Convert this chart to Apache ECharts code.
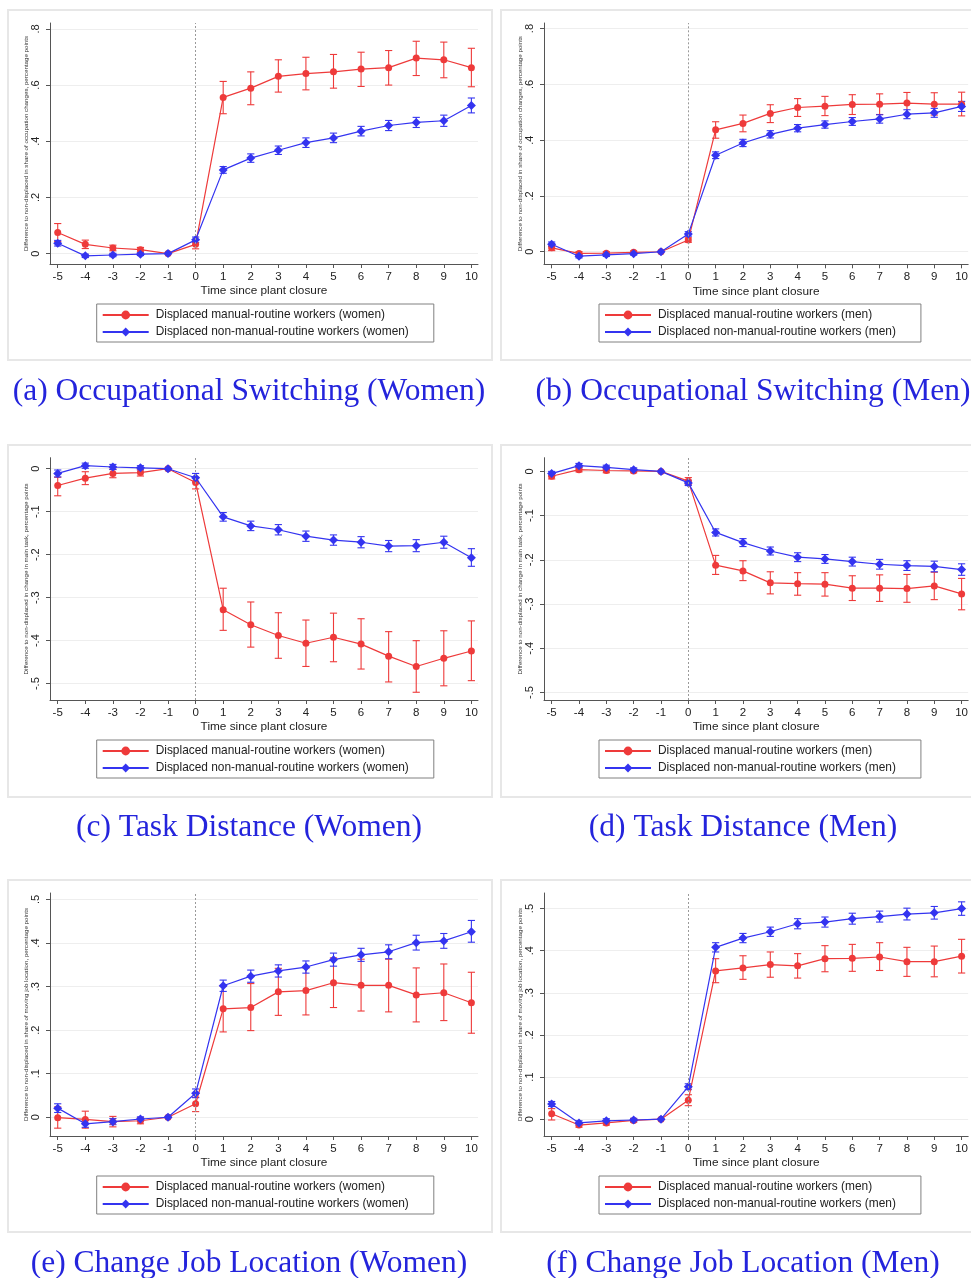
<!DOCTYPE html>
<html>
<head>
<meta charset="utf-8">
<script src="https://cdn.jsdelivr.net/npm/echarts@6/dist/echarts.min.js"></script>
<style>
  html, body { margin: 0; padding: 0; background: #ffffff; overflow: hidden; }
  #chart { width: 971px; height: 1278px; }
</style>
</head>
<body>
<div id="chart"></div>
<script>
// Event time relative to plant closure
const years = [-5, -4, -3, -2, -1, 0, 1, 2, 3, 4, 5, 6, 7, 8, 9, 10];
const xTicks = years;
const yTicksOcc = [0, 0.2, 0.4, 0.6, 0.8];
const yTicksTask = [-0.5, -0.4, -0.3, -0.2, -0.1, 0];
const yTicksLoc = [0, 0.1, 0.2, 0.3, 0.4, 0.5];

// Series names
const manualWomen = 'Displaced manual-routine workers (women)';
const nonManualWomen = 'Displaced non-manual-routine workers (women)';
const manualMen = 'Displaced manual-routine workers (men)';
const nonManualMen = 'Displaced non-manual-routine workers (men)';

// (a) Occupational switching, women
const occWomenManual   = [0.075, 0.033, 0.020, 0.014, 0, 0.033, 0.556, 0.589, 0.631, 0.641, 0.647, 0.657, 0.662, 0.696, 0.690, 0.662];
const occWomenManualLo = [0.043, 0.018, 0.010, 0.006, 0, 0.017, 0.498, 0.530, 0.575, 0.583, 0.589, 0.595, 0.600, 0.634, 0.626, 0.594];
const occWomenManualHi = [0.107, 0.048, 0.030, 0.022, 0, 0.049, 0.613, 0.647, 0.690, 0.699, 0.709, 0.717, 0.723, 0.756, 0.753, 0.731];
const occWomenOther    = [0.037, -0.008, -0.005, -0.002, 0, 0.049, 0.298, 0.340, 0.368, 0.395, 0.412, 0.436, 0.456, 0.467, 0.473, 0.527];
const occWomenOtherLo  = [0.027, -0.014, -0.011, -0.007, 0, 0.039, 0.286, 0.325, 0.353, 0.378, 0.395, 0.419, 0.438, 0.449, 0.453, 0.501];
const occWomenOtherHi  = [0.047, -0.002, 0.001, 0.003, 0, 0.059, 0.310, 0.355, 0.383, 0.412, 0.429, 0.453, 0.474, 0.485, 0.493, 0.554];

// (b) Occupational switching, men
const occMenManual   = [0.014, -0.006, -0.005, -0.002, 0, 0.042, 0.437, 0.460, 0.496, 0.517, 0.522, 0.528, 0.529, 0.533, 0.529, 0.529];
const occMenManualLo = [0.004, -0.012, -0.010, -0.007, 0, 0.034, 0.407, 0.430, 0.463, 0.485, 0.488, 0.492, 0.492, 0.494, 0.490, 0.487];
const occMenManualHi = [0.024, 0.000, 0.000, 0.003, 0, 0.050, 0.466, 0.490, 0.527, 0.549, 0.557, 0.563, 0.566, 0.571, 0.570, 0.572];
const occMenOther    = [0.027, -0.016, -0.011, -0.007, 0, 0.064, 0.346, 0.390, 0.421, 0.443, 0.456, 0.467, 0.476, 0.493, 0.498, 0.521];
const occMenOtherLo  = [0.019, -0.022, -0.017, -0.012, 0, 0.056, 0.334, 0.377, 0.408, 0.430, 0.443, 0.453, 0.461, 0.477, 0.482, 0.503];
const occMenOtherHi  = [0.035, -0.010, -0.005, -0.002, 0, 0.072, 0.358, 0.403, 0.434, 0.456, 0.469, 0.481, 0.491, 0.509, 0.514, 0.539];

// (c) Task distance, women
const taskWomenManual   = [-0.039, -0.022, -0.011, -0.009, 0, -0.032, -0.328, -0.363, -0.388, -0.406, -0.392, -0.408, -0.436, -0.460, -0.441, -0.424];
const taskWomenManualLo = [-0.063, -0.037, -0.021, -0.017, 0, -0.047, -0.376, -0.415, -0.441, -0.460, -0.449, -0.466, -0.496, -0.520, -0.505, -0.493];
const taskWomenManualHi = [-0.020, -0.007, -0.001, -0.001, 0, -0.020, -0.278, -0.310, -0.335, -0.352, -0.336, -0.349, -0.379, -0.400, -0.377, -0.354];
const taskWomenOther    = [-0.011, 0.007, 0.004, 0.002, 0, -0.021, -0.112, -0.133, -0.142, -0.157, -0.166, -0.171, -0.180, -0.179, -0.171, -0.207];
const taskWomenOtherLo  = [-0.019, 0.001, -0.002, -0.003, 0, -0.031, -0.122, -0.144, -0.154, -0.169, -0.178, -0.184, -0.193, -0.193, -0.185, -0.227];
const taskWomenOtherHi  = [-0.003, 0.013, 0.010, 0.007, 0, -0.011, -0.102, -0.122, -0.130, -0.145, -0.154, -0.158, -0.167, -0.165, -0.157, -0.186];

// (d) Task distance, men
const taskMenManual   = [-0.011, 0.004, 0.002, 0.001, 0, -0.022, -0.212, -0.225, -0.252, -0.254, -0.255, -0.264, -0.264, -0.265, -0.259, -0.277];
const taskMenManualLo = [-0.017, -0.001, -0.003, -0.003, 0, -0.030, -0.233, -0.247, -0.277, -0.280, -0.282, -0.292, -0.294, -0.296, -0.290, -0.313];
const taskMenManualHi = [-0.005, 0.009, 0.007, 0.005, 0, -0.014, -0.190, -0.202, -0.227, -0.229, -0.229, -0.236, -0.234, -0.233, -0.228, -0.242];
const taskMenOther    = [-0.005, 0.013, 0.009, 0.004, 0, -0.026, -0.138, -0.161, -0.180, -0.194, -0.198, -0.204, -0.210, -0.213, -0.215, -0.222];
const taskMenOtherLo  = [-0.010, 0.008, 0.004, 0.000, 0, -0.032, -0.146, -0.170, -0.189, -0.204, -0.208, -0.214, -0.221, -0.224, -0.227, -0.235];
const taskMenOtherHi  = [0.000, 0.018, 0.014, 0.008, 0, -0.020, -0.130, -0.152, -0.171, -0.184, -0.188, -0.194, -0.199, -0.202, -0.203, -0.209];

// (e) Change of job location, women
const locWomenManual   = [-0.001, -0.005, -0.010, -0.008, 0, 0.031, 0.249, 0.252, 0.288, 0.291, 0.309, 0.303, 0.303, 0.281, 0.286, 0.263];
const locWomenManualLo = [-0.025, -0.025, -0.022, -0.015, 0, 0.013, 0.196, 0.199, 0.234, 0.235, 0.252, 0.244, 0.242, 0.219, 0.222, 0.193];
const locWomenManualHi = [0.024, 0.014, 0.002, -0.001, 0, 0.046, 0.301, 0.307, 0.342, 0.343, 0.366, 0.363, 0.363, 0.343, 0.352, 0.333];
const locWomenOther    = [0.021, -0.015, -0.010, -0.004, 0, 0.055, 0.302, 0.324, 0.336, 0.345, 0.362, 0.373, 0.380, 0.401, 0.405, 0.426];
const locWomenOtherLo  = [0.011, -0.023, -0.017, -0.009, 0, 0.045, 0.289, 0.310, 0.322, 0.331, 0.347, 0.358, 0.364, 0.384, 0.388, 0.402];
const locWomenOtherHi  = [0.031, -0.007, -0.003, 0.001, 0, 0.065, 0.315, 0.338, 0.350, 0.359, 0.377, 0.388, 0.396, 0.418, 0.422, 0.452];

// (f) Change of job location, men
const locMenManual   = [0.013, -0.014, -0.009, -0.003, 0, 0.045, 0.352, 0.359, 0.367, 0.364, 0.381, 0.382, 0.385, 0.374, 0.374, 0.387];
const locMenManualLo = [-0.002, -0.019, -0.014, -0.007, 0, 0.032, 0.324, 0.332, 0.337, 0.335, 0.350, 0.351, 0.353, 0.339, 0.338, 0.347];
const locMenManualHi = [0.025, -0.009, -0.004, 0.001, 0, 0.058, 0.381, 0.388, 0.397, 0.393, 0.412, 0.415, 0.419, 0.408, 0.411, 0.427];
const locMenOther    = [0.036, -0.009, -0.004, -0.002, 0, 0.077, 0.408, 0.430, 0.445, 0.464, 0.468, 0.476, 0.481, 0.487, 0.490, 0.500];
const locMenOtherLo  = [0.030, -0.014, -0.009, -0.006, 0, 0.070, 0.397, 0.419, 0.434, 0.452, 0.456, 0.463, 0.468, 0.473, 0.475, 0.484];
const locMenOtherHi  = [0.042, -0.004, 0.001, 0.002, 0, 0.084, 0.419, 0.441, 0.456, 0.476, 0.480, 0.489, 0.494, 0.501, 0.505, 0.516];

// Axis titles and panel captions
const xTitle = 'Time since plant closure';
const yTitleOcc = 'Difference to non-displaced in share of occupation changes, percentage points';
const yTitleTask = 'Difference to non-displaced in change in main task, percentage points';
const yTitleLoc = 'Difference to non-displaced in share of moving job location, percentage points';
const captions = [
  '(a) Occupational Switching (Women)',
  '(b) Occupational Switching (Men)',
  '(c) Task Distance (Women)',
  '(d) Task Distance (Men)',
  '(e) Change Job Location (Women)',
  '(f) Change Job Location (Men)'
];

const RED = '#ee3a3a';
const BLUE = '#3434f0';
const FONT = '"Liberation Sans", Arial, Helvetica, sans-serif';

const panels = [
  { frame: [8, 10, 484, 350],   grid: [50, 23, 428, 241],    yMin: -0.037, yMax: 0.821, yTicks: yTicksOcc,  yTitle: yTitleOcc,  legend: [96.7, 304], cap: [249, 376],
    names: [manualWomen, nonManualWomen], red: [occWomenManual, occWomenManualLo, occWomenManualHi], blue: [occWomenOther, occWomenOtherLo, occWomenOtherHi] },
  { frame: [501, 10, 480, 350], grid: [544, 23, 429, 241.3], yMin: -0.045, yMax: 0.820, yTicks: yTicksOcc,  yTitle: yTitleOcc,  legend: [599, 304],  cap: [753, 376],
    names: [manualMen, nonManualMen], red: [occMenManual, occMenManualLo, occMenManualHi], blue: [occMenOther, occMenOtherLo, occMenOtherHi] },
  { frame: [8, 445, 484, 352],  grid: [50, 457.7, 428, 242.3], yMin: -0.538, yMax: 0.0256, yTicks: yTicksTask, yTitle: yTitleTask, legend: [96.7, 740], cap: [249, 812],
    names: [manualWomen, nonManualWomen], red: [taskWomenManual, taskWomenManualLo, taskWomenManualHi], blue: [taskWomenOther, taskWomenOtherLo, taskWomenOtherHi] },
  { frame: [501, 445, 480, 352], grid: [544, 457.7, 429, 242.3], yMin: -0.517, yMax: 0.031, yTicks: yTicksTask, yTitle: yTitleTask, legend: [599, 740], cap: [743, 812],
    names: [manualMen, nonManualMen], red: [taskMenManual, taskMenManualLo, taskMenManualHi], blue: [taskMenOther, taskMenOtherLo, taskMenOtherHi] },
  { frame: [8, 880, 484, 352],  grid: [50, 893, 428, 243],   yMin: -0.043, yMax: 0.515, yTicks: yTicksLoc,  yTitle: yTitleLoc,  legend: [96.7, 1176], cap: [249, 1248],
    names: [manualWomen, nonManualWomen], red: [locWomenManual, locWomenManualLo, locWomenManualHi], blue: [locWomenOther, locWomenOtherLo, locWomenOtherHi] },
  { frame: [501, 880, 480, 352], grid: [544, 893, 429, 243],  yMin: -0.040, yMax: 0.537, yTicks: yTicksLoc,  yTitle: yTitleLoc,  legend: [599, 1176], cap: [743, 1248],
    names: [manualMen, nonManualMen], red: [locMenManual, locMenManualLo, locMenManualHi], blue: [locMenOther, locMenOtherLo, locMenOtherHi] }
];

// Stata-style tick labels: ".4", "-.2", "0"
function stataNum(v) {
  const s = String(Math.round(v * 10) / 10);
  return s.replace(/^(-?)0\./, '$1.');
}

// Confidence interval drawn as a capped vertical bar
function ciRenderer(color) {
  return function (params, api) {
    const x = api.value(0), lo = api.value(1), hi = api.value(2);
    if (lo === hi) return null;
    const a = api.coord([x, lo]);
    const b = api.coord([x, hi]);
    const half = 3.6;
    const style = { stroke: color, lineWidth: 1.1 };
    return {
      type: 'group',
      children: [
        { type: 'line', shape: { x1: a[0], y1: a[1], x2: b[0], y2: b[1] }, style: style },
        { type: 'line', shape: { x1: b[0] - half, y1: b[1], x2: b[0] + half, y2: b[1] }, style: style },
        { type: 'line', shape: { x1: a[0] - half, y1: a[1], x2: a[0] + half, y2: a[1] }, style: style }
      ]
    };
  };
}

const grids = [], xAxes = [], yAxes = [], series = [], legends = [], titles = [], frames = [];

panels.forEach(function (p, i) {
  frames.push({
    type: 'rect', z: -10, silent: true,
    shape: { x: p.frame[0], y: p.frame[1], width: p.frame[2], height: p.frame[3] },
    style: { fill: '#ffffff', stroke: '#e7e7e7', lineWidth: 2 }
  });
  grids.push({ left: p.grid[0], top: p.grid[1], width: p.grid[2], height: p.grid[3], containLabel: false });
  xAxes.push({
    gridIndex: i, type: 'value', min: -5.28, max: 10.24,
    name: xTitle, nameLocation: 'middle', nameGap: 21,
    nameTextStyle: { fontFamily: FONT, fontSize: 11.8, color: '#222' },
    axisLine: { onZero: false, lineStyle: { color: '#555', width: 1 } },
    axisTick: { show: true, length: 4, customValues: xTicks, lineStyle: { color: '#555' } },
    axisLabel: { customValues: xTicks, margin: 7, fontFamily: FONT, fontSize: 11.5, color: '#222',
      formatter: function (v) { return String(Math.round(v)); } },
    splitLine: { show: false }
  });
  yAxes.push({
    gridIndex: i, type: 'value', min: p.yMin, max: p.yMax,
    name: p.yTitle, nameLocation: 'middle', nameGap: 21, nameRotate: 90,
    nameTextStyle: { fontFamily: FONT, fontSize: 6.2, color: '#333' },
    axisLine: { show: true, onZero: false, lineStyle: { color: '#555', width: 1 } },
    axisTick: { show: true, length: 4, customValues: p.yTicks, lineStyle: { color: '#555' } },
    axisLabel: { customValues: p.yTicks, rotate: 90, margin: 9, fontFamily: FONT, fontSize: 11, color: '#222',
      formatter: stataNum },
    splitLine: { show: true, lineStyle: { color: '#eeeeee', width: 1 } }
  });

  const pts = function (arr) { return years.map(function (x, k) { return [x, arr[k]]; }); };
  const ci = function (lo, hi) { return years.map(function (x, k) { return [x, lo[k], hi[k]]; }); };

  series.push({
    type: 'custom', xAxisIndex: i, yAxisIndex: i, z: 2, silent: true,
    renderItem: ciRenderer(RED), encode: { x: 0, y: [1, 2] },
    data: ci(p.red[1], p.red[2])
  });
  series.push({
    type: 'custom', xAxisIndex: i, yAxisIndex: i, z: 2, silent: true,
    renderItem: ciRenderer(BLUE), encode: { x: 0, y: [1, 2] },
    data: ci(p.blue[1], p.blue[2])
  });
  series.push({
    name: p.names[0], type: 'line', xAxisIndex: i, yAxisIndex: i, z: 3,
    symbol: 'circle', symbolSize: 7, showAllSymbol: true,
    lineStyle: { color: RED, width: 1.2 }, itemStyle: { color: RED },
    data: pts(p.red[0]),
    markLine: {
      silent: true, symbol: 'none', label: { show: false },
      lineStyle: { color: '#9a9a9a', type: [2, 2], width: 1 },
      data: [{ xAxis: 0 }]
    }
  });
  series.push({
    name: p.names[1], type: 'line', xAxisIndex: i, yAxisIndex: i, z: 4,
    symbol: 'diamond', symbolSize: 9, showAllSymbol: true,
    lineStyle: { color: BLUE, width: 1.2 }, itemStyle: { color: BLUE },
    data: pts(p.blue[0])
  });

  legends.push({
    left: p.legend[0], top: p.legend[1], orient: 'vertical',
    data: p.names, selectedMode: false,
    borderColor: '#808080', borderWidth: 1, borderRadius: 0,
    padding: [4, 25, 3, 5], itemGap: 3, itemWidth: 46, itemHeight: 11,
    textStyle: { fontFamily: FONT, fontSize: 11.9, color: '#222', lineHeight: 14, padding: [0, 0, 0, 2] }
  });

  titles.push({
    text: captions[i], left: p.cap[0], top: p.cap[1], textAlign: 'center', padding: 0,
    textStyle: { fontFamily: '"Liberation Serif", "Times New Roman", serif', fontSize: 31.5, fontWeight: 'normal', color: '#2424dc' }
  });
});

const chart = echarts.init(document.getElementById('chart'), null, { renderer: 'canvas' });
chart.setOption({
  animation: false,
  backgroundColor: '#ffffff',
  graphic: { elements: frames },
  title: titles,
  legend: legends,
  grid: grids,
  xAxis: xAxes,
  yAxis: yAxes,
  series: series
});
</script>
</body>
</html>
